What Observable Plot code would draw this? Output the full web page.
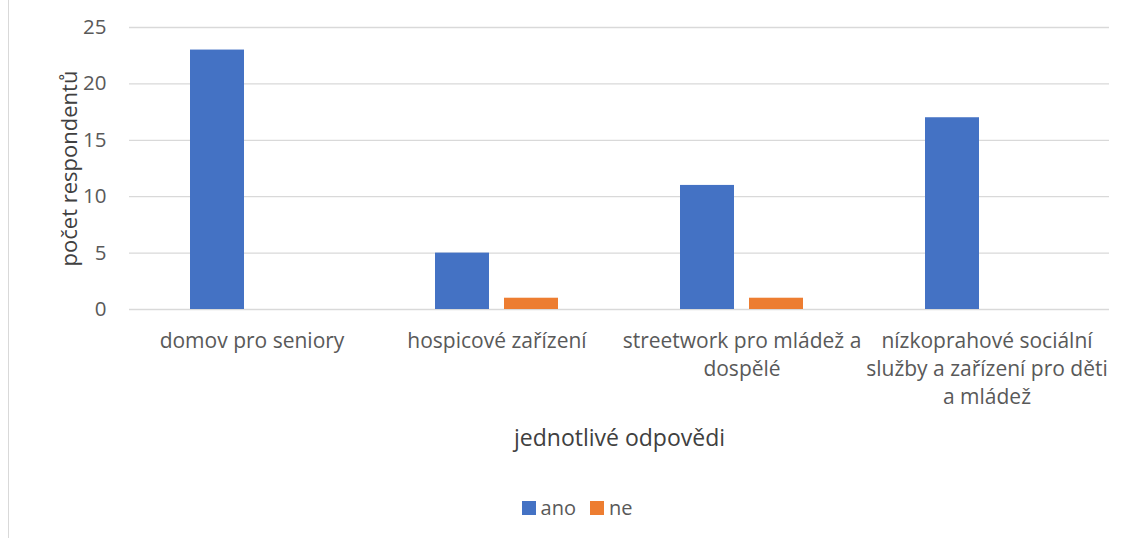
<!DOCTYPE html>
<html>
<head>
<meta charset="utf-8">
<script src="https://cdn.jsdelivr.net/npm/d3@7"></script>
<script src="https://cdn.jsdelivr.net/npm/@observablehq/plot@0.6"></script>
<style>
  html, body { margin: 0; padding: 0; background: #fff; }
  #wrap { position: relative; width: 1126px; height: 538px; overflow: hidden; font-family: "Open Sans", sans-serif; }
  #border { position: absolute; left: 8px; top: 0; width: 0; height: 538px; border-left: 1px solid #d9d9d9; }
  #chart { position: absolute; left: 0; top: 0; }
  #legend { position: absolute; left: 0; width: 1126px; top: 494px; display: flex; justify-content: center; gap: 14px; font-size: 20px; color: #595959; padding-left: 28px; box-sizing: border-box; }
  .item { display: flex; align-items: center; gap: 5px; }
  .sw { width: 14px; height: 14px; display: inline-block; }
</style>
</head>
<body>
<div id="wrap">
  <div id="border"></div>
  <div id="chart"></div>
  <div id="legend"></div>
</div>
<script>
const categories = [
  "domov pro seniory",
  "hospicové zařízení",
  "streetwork pro mládež a dospělé",
  "nízkoprahové sociální služby a zařízení pro děti a mládež"
];
const tickLabels = [
  "domov pro seniory",
  "hospicové zařízení",
  "streetwork pro mládež a\ndospělé",
  "nízkoprahové sociální\nslužby a zařízení pro děti\na mládež"
];
const series = ["ano", "ne"];
const seriesColors = ["#4472C4", "#ED7D31"];
const ano = [23, 5, 11, 17];
const ne = [0, 1, 1, 0];
const yTicks = [0, 5, 10, 15, 20, 25];

const data = [];
categories.forEach((c, i) => {
  data.push({category: c, series: "ano", value: ano[i]});
  data.push({category: c, series: "ne", value: ne[i]});
});

const chart = Plot.plot({
  width: 1126,
  height: 460,
  marginLeft: 128,
  marginRight: 16,
  marginTop: 27,
  marginBottom: 151,
  style: {fontFamily: "Open Sans, sans-serif", fontSize: "21px", color: "#595959", background: "transparent", overflow: "visible"},
  fx: {domain: categories, padding: 0},
  x: {domain: series, paddingInner: 0.214, paddingOuter: 0.86, axis: null},
  y: {domain: [0, 25]},
  color: {domain: series, range: seriesColors},
  marks: [
    Plot.gridY(yTicks, {stroke: "#d9d9d9", strokeOpacity: 1, strokeWidth: 1.3}),
    Plot.axisY(yTicks, {
      anchor: "left", tickSize: 0, tickPadding: 23, fill: "#595959", fontSize: 20.5,
      label: null
    }),
    Plot.axisY({
      anchor: "left", ticks: [], tickSize: 0, fill: "#404040", fontSize: 22,
      label: "počet respondentů", labelAnchor: "center", labelArrow: "none", labelOffset: 68, dy: 3
    }),
    Plot.axisFx({
      anchor: "bottom", tickSize: 0, tickPadding: 18, fill: "#595959", fontSize: 21, lineHeight: 1.35,
      tickFormat: d => tickLabels[categories.indexOf(d)],
      label: null
    }),
    Plot.axisFx({
      anchor: "bottom", ticks: [], tickSize: 0, fill: "#404040", fontSize: 23,
      label: "jednotlivé odpovědi", labelAnchor: "center", labelArrow: "none", labelOffset: 136
    }),
    Plot.barY(data.filter(d => d.value > 0), {fx: "category", x: "series", y: "value", fill: "series"})
  ]
});
document.getElementById("chart").appendChild(chart);

const legend = document.getElementById("legend");
series.forEach((s, i) => {
  const item = document.createElement("div");
  item.className = "item";
  const sw = document.createElement("span");
  sw.className = "sw";
  sw.style.background = seriesColors[i];
  const t = document.createElement("span");
  t.textContent = s;
  item.appendChild(sw);
  item.appendChild(t);
  legend.appendChild(item);
});
</script>
</body>
</html>
